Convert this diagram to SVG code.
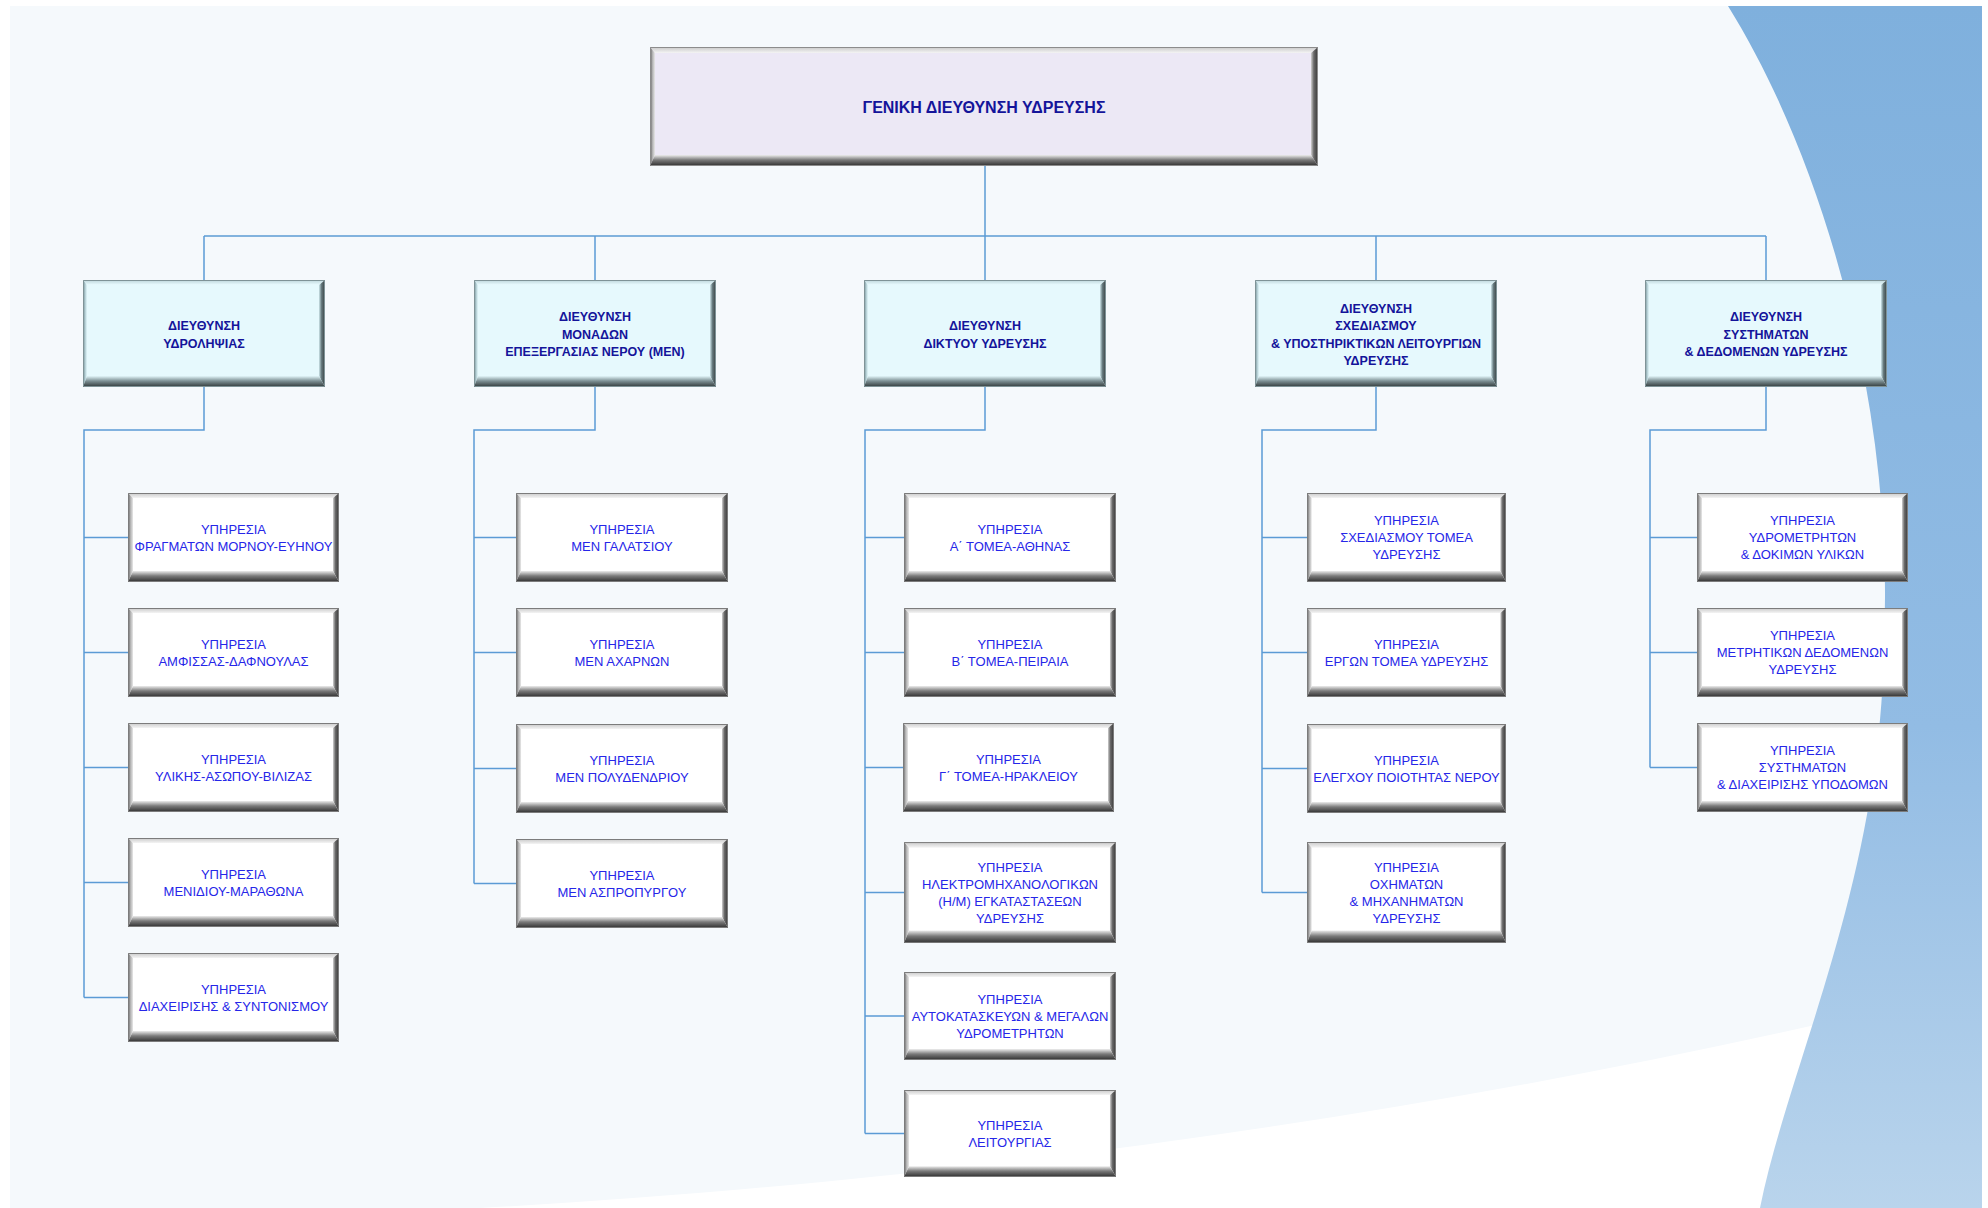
<svg xmlns="http://www.w3.org/2000/svg" xmlns:xlink="http://www.w3.org/1999/xlink" width="1988" height="1208" viewBox="0 0 1988 1208">
  <style>
    .wire { fill: none; stroke: #5b9bd5; stroke-width: 1.5; }
    .t0 { font-family: "Liberation Sans", Arial, sans-serif; font-size: 16px; font-weight: bold; fill: #14149a; text-anchor: middle; }
    .t1 { font-family: "Liberation Sans", Arial, sans-serif; font-size: 12.5px; font-weight: bold; fill: #14149a; text-anchor: middle; }
    .t2 { font-family: "Liberation Sans", Arial, sans-serif; font-size: 13px; fill: #2626e8; text-anchor: middle; }
  </style>
  <defs>
    <linearGradient id="gBlue" x1="0" y1="0" x2="0" y2="1">
      <stop offset="0" stop-color="#7fb0dd"/>
      <stop offset="0.6" stop-color="#92bce4"/>
      <stop offset="1" stop-color="#b9d4ec"/>
    </linearGradient>

    <!-- grey bevel edges -->
    <linearGradient id="gTop" x1="0" y1="0" x2="0" y2="1">
      <stop offset="0" stop-color="#c8c8c8"/>
      <stop offset="1" stop-color="#f4f4f4"/>
    </linearGradient>
    <linearGradient id="gLeft" x1="0" y1="0" x2="1" y2="0">
      <stop offset="0" stop-color="#4a4a4a"/>
      <stop offset="0.4" stop-color="#a8a8a8"/>
      <stop offset="1" stop-color="#e8e8e8"/>
    </linearGradient>
    <linearGradient id="gRight" x1="0" y1="0" x2="1" y2="0">
      <stop offset="0" stop-color="#d0d0d0"/>
      <stop offset="0.4" stop-color="#6a6a6a"/>
      <stop offset="1" stop-color="#363636"/>
    </linearGradient>
    <linearGradient id="gBottom" x1="0" y1="0" x2="0" y2="1">
      <stop offset="0" stop-color="#ececec"/>
      <stop offset="0.45" stop-color="#7a7a7a"/>
      <stop offset="1" stop-color="#2e2e2e"/>
    </linearGradient>

    <!-- cyan-tinted bevel edges -->
    <linearGradient id="cTop" x1="0" y1="0" x2="0" y2="1">
      <stop offset="0" stop-color="#bcd5da"/>
      <stop offset="1" stop-color="#eafbff"/>
    </linearGradient>
    <linearGradient id="cLeft" x1="0" y1="0" x2="1" y2="0">
      <stop offset="0" stop-color="#4a5558"/>
      <stop offset="0.4" stop-color="#a3bfc5"/>
      <stop offset="1" stop-color="#e2f7fb"/>
    </linearGradient>
    <linearGradient id="cRight" x1="0" y1="0" x2="1" y2="0">
      <stop offset="0" stop-color="#cde5ea"/>
      <stop offset="0.4" stop-color="#687c80"/>
      <stop offset="1" stop-color="#353d3f"/>
    </linearGradient>
    <linearGradient id="cBottom" x1="0" y1="0" x2="0" y2="1">
      <stop offset="0" stop-color="#e2f6fa"/>
      <stop offset="0.45" stop-color="#7d9094"/>
      <stop offset="1" stop-color="#303839"/>
    </linearGradient>

    <!-- bevelled frames -->
    <symbol id="bevelHead" viewBox="0 0 668 119" preserveAspectRatio="none">
      <rect width="668" height="119" fill="#ece8f5"/>
      <polygon points="0,0 668,0 661,6 5,6" fill="url(#gTop)"/>
      <polygon points="0,0 5,6 5,108 0,119" fill="url(#gLeft)"/>
      <polygon points="668,0 668,119 661,108 661,6" fill="url(#gRight)"/>
      <polygon points="0,119 5,108 661,108 668,119" fill="url(#gBottom)"/>
      <rect x="0.5" y="0.5" width="667" height="118" fill="none" stroke="#8c8c8c" stroke-width="1" vector-effect="non-scaling-stroke"/>
    </symbol>
    <symbol id="bevelDir" viewBox="0 0 242 107" preserveAspectRatio="none">
      <rect width="242" height="107" fill="#e6f9fd"/>
      <polygon points="0,0 242,0 236,5 4,5" fill="url(#cTop)"/>
      <polygon points="0,0 4,5 4,96 0,107" fill="url(#cLeft)"/>
      <polygon points="242,0 242,107 236,96 236,5" fill="url(#cRight)"/>
      <polygon points="0,107 4,96 236,96 242,107" fill="url(#cBottom)"/>
      <rect x="0.5" y="0.5" width="241" height="106" fill="none" stroke="#7f9397" stroke-width="1" vector-effect="non-scaling-stroke"/>
    </symbol>
    <symbol id="bevelSvc" viewBox="0 0 211 89" preserveAspectRatio="none">
      <rect width="211" height="89" fill="#ffffff"/>
      <polygon points="0,0 211,0 205,5 5,5" fill="url(#gTop)"/>
      <polygon points="0,0 5,5 5,78 0,89" fill="url(#gLeft)"/>
      <polygon points="211,0 211,89 205,78 205,5" fill="url(#gRight)"/>
      <polygon points="0,89 5,78 205,78 211,89" fill="url(#gBottom)"/>
      <rect x="0.5" y="0.5" width="210" height="88" fill="none" stroke="#7c7c7c" stroke-width="1" vector-effect="non-scaling-stroke"/>
    </symbol>
  </defs>

  <!-- backdrop -->
  <g id="backdrop">
    <rect width="1988" height="1208" fill="#ffffff"/>
    <rect x="10" y="6" width="1972" height="1202" fill="#f5f9fc"/>
    <path d="M480,1208 C900,1185 1450,1120 1982,985 L1982,1208 Z" fill="#ffffff"/>
    <path d="M1728,6 C1830,170 1894,420 1884,640 C1882,880 1790,1060 1760,1208 L1982,1208 L1982,6 Z" fill="url(#gBlue)"/>
  </g>

  <!-- connectors -->
  <g id="connectors" class="wire">
    <path d="M985,166 V280"/>
    <path d="M204,236 H1766"/>
    <path d="M204,236 V280 M595,236 V280 M1376,236 V280 M1766,236 V280"/>

    <path d="M204,387 V430 H84 V997.5"/>
    <path d="M84,537.5 H128 M84,652.5 H128 M84,767.5 H128 M84,882.5 H128 M84,997.5 H128"/>

    <path d="M595,387 V430 H474 V883.5"/>
    <path d="M474,537.5 H516 M474,652.5 H516 M474,768.5 H516 M474,883.5 H516"/>

    <path d="M985,387 V430 H865 V1133.5"/>
    <path d="M865,537.5 H904 M865,652.5 H904 M865,767.5 H904 M865,892.5 H904 M865,1016 H904 M865,1133.5 H904"/>

    <path d="M1376,387 V430 H1262 V892.5"/>
    <path d="M1262,537.5 H1307 M1262,652.5 H1307 M1262,768.5 H1307 M1262,892.5 H1307"/>

    <path d="M1766,387 V430 H1650 V767.5"/>
    <path d="M1650,537.5 H1697 M1650,652.5 H1697 M1650,767.5 H1697"/>
  </g>

  <!-- head office -->
  <g id="general-directorate">
    <use xlink:href="#bevelHead" x="650" y="47" width="668" height="119"/>
    <text class="t0" x="984" y="112.5">ΓΕΝΙΚΗ ΔΙΕΥΘΥΝΣΗ ΥΔΡΕΥΣΗΣ</text>
  </g>

  <!-- directorates -->
  <g id="dir-water-intake">
    <use xlink:href="#bevelDir" x="83" y="280" width="242" height="107"/>
    <text class="t1" x="204" y="329.5">ΔΙΕΥΘΥΝΣΗ</text>
    <text class="t1" x="204" y="347.5">ΥΔΡΟΛΗΨΙΑΣ</text>
  </g>
  <g id="dir-treatment-plants">
    <use xlink:href="#bevelDir" x="474" y="280" width="242" height="107"/>
    <text class="t1" x="595" y="321">ΔΙΕΥΘΥΝΣΗ</text>
    <text class="t1" x="595" y="338.5">ΜΟΝΑΔΩΝ</text>
    <text class="t1" x="595" y="356">ΕΠΕΞΕΡΓΑΣΙΑΣ ΝΕΡΟΥ (ΜΕΝ)</text>
  </g>
  <g id="dir-network">
    <use xlink:href="#bevelDir" x="864" y="280" width="242" height="107"/>
    <text class="t1" x="985" y="329.5">ΔΙΕΥΘΥΝΣΗ</text>
    <text class="t1" x="985" y="347.5">ΔΙΚΤΥΟΥ ΥΔΡΕΥΣΗΣ</text>
  </g>
  <g id="dir-planning">
    <use xlink:href="#bevelDir" x="1255" y="280" width="242" height="107"/>
    <text class="t1" x="1376" y="312.5">ΔΙΕΥΘΥΝΣΗ</text>
    <text class="t1" x="1376" y="330">ΣΧΕΔΙΑΣΜΟΥ</text>
    <text class="t1" x="1376" y="347.5">&amp; ΥΠΟΣΤΗΡΙΚΤΙΚΩΝ ΛΕΙΤΟΥΡΓΙΩΝ</text>
    <text class="t1" x="1376" y="365">ΥΔΡΕΥΣΗΣ</text>
  </g>
  <g id="dir-systems">
    <use xlink:href="#bevelDir" x="1645" y="280" width="242" height="107"/>
    <text class="t1" x="1766" y="321">ΔΙΕΥΘΥΝΣΗ</text>
    <text class="t1" x="1766" y="338.5">ΣΥΣΤΗΜΑΤΩΝ</text>
    <text class="t1" x="1766" y="356">&amp; ΔΕΔΟΜΕΝΩΝ ΥΔΡΕΥΣΗΣ</text>
  </g>

  <!-- services: water intake -->
  <g id="svc-mornos-evinos">
    <use xlink:href="#bevelSvc" x="128" y="493" width="211" height="89"/>
    <text class="t2" x="233.5" y="533.5">ΥΠΗΡΕΣΙΑ</text>
    <text class="t2" x="233.5" y="550.5">ΦΡΑΓΜΑΤΩΝ ΜΟΡΝΟΥ-ΕΥΗΝΟΥ</text>
  </g>
  <g id="svc-amfissa">
    <use xlink:href="#bevelSvc" x="128" y="608" width="211" height="89"/>
    <text class="t2" x="233.5" y="648.5">ΥΠΗΡΕΣΙΑ</text>
    <text class="t2" x="233.5" y="665.5">ΑΜΦΙΣΣΑΣ-ΔΑΦΝΟΥΛΑΣ</text>
  </g>
  <g id="svc-yliki">
    <use xlink:href="#bevelSvc" x="128" y="723" width="211" height="89"/>
    <text class="t2" x="233.5" y="763.5">ΥΠΗΡΕΣΙΑ</text>
    <text class="t2" x="233.5" y="780.5">ΥΛΙΚΗΣ-ΑΣΩΠΟΥ-ΒΙΛΙΖΑΣ</text>
  </g>
  <g id="svc-menidi">
    <use xlink:href="#bevelSvc" x="128" y="838" width="211" height="89"/>
    <text class="t2" x="233.5" y="878.5">ΥΠΗΡΕΣΙΑ</text>
    <text class="t2" x="233.5" y="895.5">ΜΕΝΙΔΙΟΥ-ΜΑΡΑΘΩΝΑ</text>
  </g>
  <g id="svc-coordination">
    <use xlink:href="#bevelSvc" x="128" y="953" width="211" height="89"/>
    <text class="t2" x="233.5" y="993.5">ΥΠΗΡΕΣΙΑ</text>
    <text class="t2" x="233.5" y="1010.5">ΔΙΑΧΕΙΡΙΣΗΣ &amp; ΣΥΝΤΟΝΙΣΜΟΥ</text>
  </g>

  <!-- services: treatment plants -->
  <g id="svc-galatsi">
    <use xlink:href="#bevelSvc" x="516" y="493" width="212" height="89"/>
    <text class="t2" x="622" y="533.5">ΥΠΗΡΕΣΙΑ</text>
    <text class="t2" x="622" y="550.5">ΜΕΝ ΓΑΛΑΤΣΙΟΥ</text>
  </g>
  <g id="svc-acharnes">
    <use xlink:href="#bevelSvc" x="516" y="608" width="212" height="89"/>
    <text class="t2" x="622" y="648.5">ΥΠΗΡΕΣΙΑ</text>
    <text class="t2" x="622" y="665.5">ΜΕΝ ΑΧΑΡΝΩΝ</text>
  </g>
  <g id="svc-polydendri">
    <use xlink:href="#bevelSvc" x="516" y="724" width="212" height="89"/>
    <text class="t2" x="622" y="764.5">ΥΠΗΡΕΣΙΑ</text>
    <text class="t2" x="622" y="781.5">ΜΕΝ ΠΟΛΥΔΕΝΔΡΙΟΥ</text>
  </g>
  <g id="svc-aspropyrgos">
    <use xlink:href="#bevelSvc" x="516" y="839" width="212" height="89"/>
    <text class="t2" x="622" y="879.5">ΥΠΗΡΕΣΙΑ</text>
    <text class="t2" x="622" y="896.5">ΜΕΝ ΑΣΠΡΟΠΥΡΓΟΥ</text>
  </g>

  <!-- services: network -->
  <g id="svc-sector-a">
    <use xlink:href="#bevelSvc" x="904" y="493" width="212" height="89"/>
    <text class="t2" x="1010" y="533.5">ΥΠΗΡΕΣΙΑ</text>
    <text class="t2" x="1010" y="550.5">Α΄ ΤΟΜΕΑ-ΑΘΗΝΑΣ</text>
  </g>
  <g id="svc-sector-b">
    <use xlink:href="#bevelSvc" x="904" y="608" width="212" height="89"/>
    <text class="t2" x="1010" y="648.5">ΥΠΗΡΕΣΙΑ</text>
    <text class="t2" x="1010" y="665.5">Β΄ ΤΟΜΕΑ-ΠΕΙΡΑΙΑ</text>
  </g>
  <g id="svc-sector-c">
    <use xlink:href="#bevelSvc" x="903" y="723" width="211" height="89"/>
    <text class="t2" x="1008.5" y="763.5">ΥΠΗΡΕΣΙΑ</text>
    <text class="t2" x="1008.5" y="780.5">Γ΄ ΤΟΜΕΑ-ΗΡΑΚΛΕΙΟΥ</text>
  </g>
  <g id="svc-electromechanical">
    <use xlink:href="#bevelSvc" x="904" y="842" width="212" height="101"/>
    <text class="t2" x="1010" y="871.5">ΥΠΗΡΕΣΙΑ</text>
    <text class="t2" x="1010" y="888.5">ΗΛΕΚΤΡΟΜΗΧΑΝΟΛΟΓΙΚΩΝ</text>
    <text class="t2" x="1010" y="905.5">(Η/Μ) ΕΓΚΑΤΑΣΤΑΣΕΩΝ</text>
    <text class="t2" x="1010" y="922.5">ΥΔΡΕΥΣΗΣ</text>
  </g>
  <g id="svc-workshops">
    <use xlink:href="#bevelSvc" x="904" y="972" width="212" height="88"/>
    <text class="t2" x="1010" y="1003.5">ΥΠΗΡΕΣΙΑ</text>
    <text class="t2" x="1010" y="1020.5">ΑΥΤΟΚΑΤΑΣΚΕΥΩΝ &amp; ΜΕΓΑΛΩΝ</text>
    <text class="t2" x="1010" y="1037.5">ΥΔΡΟΜΕΤΡΗΤΩΝ</text>
  </g>
  <g id="svc-operation">
    <use xlink:href="#bevelSvc" x="904" y="1090" width="212" height="87"/>
    <text class="t2" x="1010" y="1129.5">ΥΠΗΡΕΣΙΑ</text>
    <text class="t2" x="1010" y="1146.5">ΛΕΙΤΟΥΡΓΙΑΣ</text>
  </g>

  <!-- services: planning -->
  <g id="svc-sector-planning">
    <use xlink:href="#bevelSvc" x="1307" y="493" width="199" height="89"/>
    <text class="t2" x="1406.5" y="525">ΥΠΗΡΕΣΙΑ</text>
    <text class="t2" x="1406.5" y="542">ΣΧΕΔΙΑΣΜΟΥ ΤΟΜΕΑ</text>
    <text class="t2" x="1406.5" y="559">ΥΔΡΕΥΣΗΣ</text>
  </g>
  <g id="svc-sector-works">
    <use xlink:href="#bevelSvc" x="1307" y="608" width="199" height="89"/>
    <text class="t2" x="1406.5" y="648.5">ΥΠΗΡΕΣΙΑ</text>
    <text class="t2" x="1406.5" y="665.5">ΕΡΓΩΝ ΤΟΜΕΑ ΥΔΡΕΥΣΗΣ</text>
  </g>
  <g id="svc-quality">
    <use xlink:href="#bevelSvc" x="1307" y="724" width="199" height="89"/>
    <text class="t2" x="1406.5" y="764.5">ΥΠΗΡΕΣΙΑ</text>
    <text class="t2" x="1406.5" y="781.5">ΕΛΕΓΧΟΥ ΠΟΙΟΤΗΤΑΣ ΝΕΡΟΥ</text>
  </g>
  <g id="svc-vehicles">
    <use xlink:href="#bevelSvc" x="1307" y="842" width="199" height="101"/>
    <text class="t2" x="1406.5" y="871.5">ΥΠΗΡΕΣΙΑ</text>
    <text class="t2" x="1406.5" y="888.5">ΟΧΗΜΑΤΩΝ</text>
    <text class="t2" x="1406.5" y="905.5">&amp; ΜΗΧΑΝΗΜΑΤΩΝ</text>
    <text class="t2" x="1406.5" y="922.5">ΥΔΡΕΥΣΗΣ</text>
  </g>

  <!-- services: systems and data -->
  <g id="svc-meters">
    <use xlink:href="#bevelSvc" x="1697" y="493" width="211" height="89"/>
    <text class="t2" x="1802.5" y="525">ΥΠΗΡΕΣΙΑ</text>
    <text class="t2" x="1802.5" y="542">ΥΔΡΟΜΕΤΡΗΤΩΝ</text>
    <text class="t2" x="1802.5" y="559">&amp; ΔΟΚΙΜΩΝ ΥΛΙΚΩΝ</text>
  </g>
  <g id="svc-metering-data">
    <use xlink:href="#bevelSvc" x="1697" y="608" width="211" height="89"/>
    <text class="t2" x="1802.5" y="640">ΥΠΗΡΕΣΙΑ</text>
    <text class="t2" x="1802.5" y="657">ΜΕΤΡΗΤΙΚΩΝ ΔΕΔΟΜΕΝΩΝ</text>
    <text class="t2" x="1802.5" y="674">ΥΔΡΕΥΣΗΣ</text>
  </g>
  <g id="svc-infrastructure">
    <use xlink:href="#bevelSvc" x="1697" y="723" width="211" height="89"/>
    <text class="t2" x="1802.5" y="755">ΥΠΗΡΕΣΙΑ</text>
    <text class="t2" x="1802.5" y="772">ΣΥΣΤΗΜΑΤΩΝ</text>
    <text class="t2" x="1802.5" y="789">&amp; ΔΙΑΧΕΙΡΙΣΗΣ ΥΠΟΔΟΜΩΝ</text>
  </g>
</svg>
